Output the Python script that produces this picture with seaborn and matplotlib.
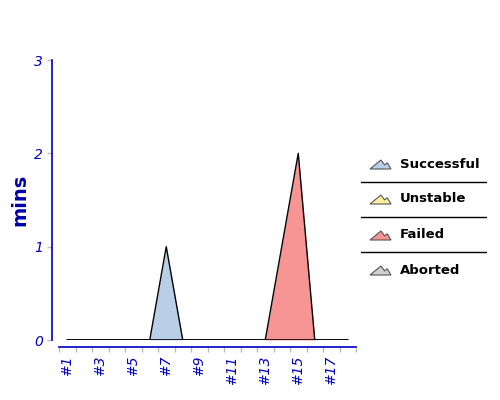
import numpy as np
import matplotlib
matplotlib.use('Agg')
import matplotlib.pyplot as plt
import seaborn as sns
from matplotlib.patches import Polygon

# 构建编号与各状态的耗时（分钟）
builds = ['#1', '#2', '#3', '#4', '#5', '#6', '#7', '#8', '#9',
          '#10', '#11', '#12', '#13', '#14', '#15', '#16', '#17', '#18']
successful = [0, 0, 0, 0, 0, 0, 1, 0, 0, 0, 0, 0, 0, 0, 0, 0, 0, 0]
unstable = [0, 0, 0, 0, 0, 0, 0, 0, 0, 0, 0, 0, 0, 0, 0, 0, 0, 0]
failed = [0, 0, 0, 0, 0, 0, 0, 0, 0, 0, 0, 0, 0, 1, 2, 0, 0, 0]
aborted = [0, 0, 0, 0, 0, 0, 0, 0, 0, 0, 0, 0, 0, 0, 0, 0, 0, 0]

series_names = ['Successful', 'Unstable', 'Failed', 'Aborted']
series_colors = ['#B9CFE7', '#FFF0A0', '#F79494', '#D0D0D0']
y_ticks = [0, 1, 2, 3]

axis_blue = '#0000C0'
label_blue = '#0000AA'

sns.set_style('white')
plt.rcParams['font.family'] = ['DejaVu Sans']

fig = plt.figure(figsize=(5, 4), dpi=100)
ax = fig.add_axes([0.118, 0.15, 0.594, 0.70])

x = np.arange(len(builds))
layers = [successful, unstable, failed, aborted]

# 堆叠面积
bottom = np.zeros(len(builds))
for vals, color in zip(layers, series_colors):
    top = bottom + np.array(vals)
    ax.fill_between(x, bottom, top, color=color, linewidth=0)
    bottom = top

# 轮廓线
sns.lineplot(x=x, y=np.zeros(len(builds)), color='black', lw=1.2, ax=ax)
sns.lineplot(x=x, y=bottom, color='black', lw=1.0, ax=ax)

ax.set_xlim(-0.5, len(builds) - 0.5)
ax.set_ylim(0, 3)

sns.despine(ax=ax, offset=5)
ax.spines['left'].set_color(axis_blue)
ax.spines['bottom'].set_color(axis_blue)
ax.spines['left'].set_linewidth(1.2)
ax.spines['bottom'].set_linewidth(1.2)

ax.set_xticks(x)
ax.set_xticklabels([b if i % 2 == 0 else '' for i, b in enumerate(builds)],
                   rotation=90, fontstyle='italic', fontsize=10, color=axis_blue)
ax.set_xticks(np.arange(-0.5, len(builds)), minor=True)
ax.tick_params(axis='x', which='both', bottom=True)
ax.tick_params(axis='x', which='major', length=0, pad=6)
ax.tick_params(axis='x', which='minor', length=3.6, color='#BBBBBB', width=1)

ax.set_yticks(y_ticks)
ax.set_yticklabels([str(v) for v in y_ticks], fontstyle='italic',
                   fontsize=10, color=axis_blue)
ax.tick_params(axis='y', left=True, length=3.6, color='#BBBBBB', width=1, pad=3)

ax.set_ylabel('mins', fontsize=14, fontweight='bold', color=label_blue, labelpad=3)
ax.set_xlabel('')

# 图例
lg = fig.add_axes([0, 0, 1, 1], facecolor='none')
lg.set_xlim(0, 500)
lg.set_ylim(400, 0)
lg.axis('off')
rows = [164, 199, 235, 270]
icon = np.array([[0, 0], [0.52, 1], [0.7, 0.45], [0.82, 0.7], [1, 0]])
for name, color, yc in zip(series_names, series_colors, rows):
    pts = np.column_stack([370 + icon[:, 0] * 21, yc + 5 - icon[:, 1] * 9])
    lg.add_patch(Polygon(pts, closed=True, facecolor=color,
                         edgecolor='#555555', lw=0.8))
    lg.text(400, yc, name, fontsize=9.5, fontweight='bold',
            va='center', ha='left', color='black')
for ys in [181.5, 216.5, 251.5]:
    lg.plot([361, 486], [ys, ys], color='black', lw=1)

plt.savefig('out.png', dpi=100)
